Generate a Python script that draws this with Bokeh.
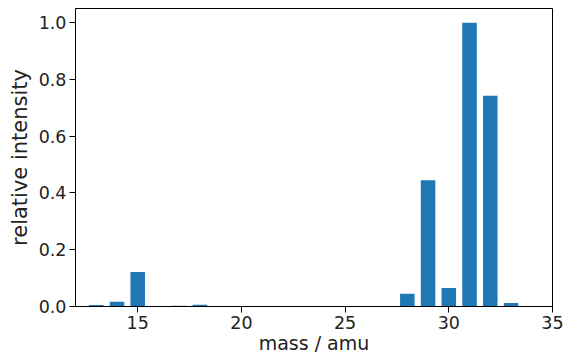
from bokeh.plotting import figure
from bokeh.models import FixedTicker, NumeralTickFormatter, Range1d
from bokeh.embed import file_html
from bokeh.resources import INLINE

masses = [13, 14, 15, 17, 18, 28, 29, 30, 31, 32, 33]
intensity = [0.005, 0.017, 0.122, 0.003, 0.006, 0.045, 0.445, 0.065, 1.0, 0.743, 0.012]
x_ticks = [15, 20, 25, 30, 35]
y_ticks = [0.0, 0.2, 0.4, 0.6, 0.8, 1.0]

p = figure(width=564, height=357, output_backend="svg", toolbar_location=None,
           x_range=Range1d(12, 35), y_range=Range1d(0, 1.05),
           min_border_left=75, min_border_right=12, min_border_top=8, min_border_bottom=51)

p.vbar(x=masses, top=intensity, width=0.7, bottom=0, color="#1f77b4", line_color=None)

p.xgrid.visible = False
p.ygrid.visible = False
p.outline_line_color = "black"
p.outline_line_width = 1
p.background_fill_color = "white"
p.border_fill_color = "white"

p.xaxis.ticker = FixedTicker(ticks=x_ticks)
p.yaxis.ticker = FixedTicker(ticks=y_ticks)
p.yaxis.formatter = NumeralTickFormatter(format="0.0")
p.xaxis.axis_label = "mass / amu"
p.yaxis.axis_label = "relative intensity"

for ax in (p.xaxis[0], p.yaxis[0]):
    ax.axis_line_color = "black"
    ax.major_tick_line_color = "black"
    ax.major_tick_out = 6
    ax.major_tick_in = 0
    ax.minor_tick_line_color = None
    ax.major_label_text_font = "DejaVu Sans"
    ax.major_label_text_font_size = "17.5px"
    ax.major_label_text_color = "#222222"
    ax.axis_label_text_font = "DejaVu Sans"
    ax.axis_label_text_font_style = "normal"
    ax.axis_label_text_color = "#222222"

p.xaxis.axis_label_text_font_size = "19px"
p.yaxis.axis_label_text_font_size = "21px"
p.xaxis.major_label_standoff = 3
p.xaxis.axis_label_standoff = 0
p.yaxis.major_label_standoff = 3
p.yaxis.axis_label_standoff = 4

open("out.html", "w").write(file_html(p, INLINE))
